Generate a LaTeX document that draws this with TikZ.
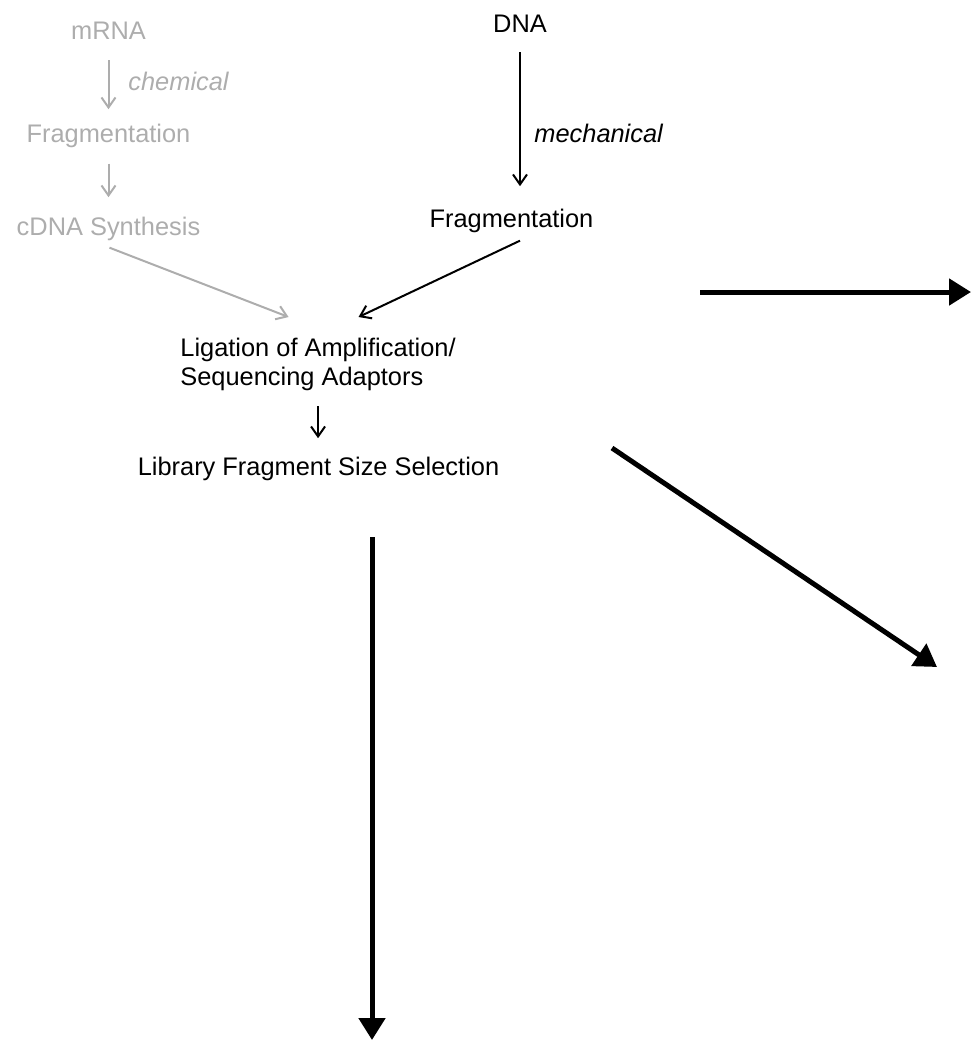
\documentclass[tikz,border=0pt]{standalone}
\usepackage{fontspec}
\setmainfont{Liberation Sans}
\usetikzlibrary{arrows.meta}
\begin{document}
\begin{tikzpicture}[x=0.5pt,y=-0.5pt,
		every node/.style={inner sep=0pt,font=\fontsize{12.7}{14.5}\selectfont},
		faded/.style={color=black!32},
		thinarrow/.style={line width=1pt,-{Straight Barb[length=5pt,width=7pt]}},
		bigarrow/.style={line width=2.5pt,-{Triangle[length=11pt,width=13pt]}}]
	\useasboundingbox (0,0) rectangle (971,1041);
	%%%%%%%%%%%%%%%%%%%
	%      mRNA       %
	%%%%%%%%%%%%%%%%%%%
		\node[faded,anchor=base] (mrna) at (108.5,39) {mRNA};
		\node[faded,anchor=base west] (chem) at (128,90) {\itshape chemical};
		\node[faded,anchor=base] (fraga) at (108.5,142) {Fragmentation};
		\node[faded,anchor=base] (cdna) at (108.5,235) {cDNA Synthesis};
		% steps
			\draw[faded,thinarrow,shorten <=10.5pt,shorten >=7pt] (mrna.south) -- (mrna.south |- fraga.north);
			\draw[faded,thinarrow,shorten <=8pt,shorten >=9.5pt] (fraga.south) -- (fraga.south |- cdna.north);
	%%%%%%%%%%%%%%%%%%%
	%       DNA       %
	%%%%%%%%%%%%%%%%%%%
		\node[anchor=base] (dna) at (520,32) {DNA};
		\node[anchor=base west] (mech) at (534,142) {\itshape mechanical};
		\node[anchor=base] (fragb) at (511.5,227) {Fragmentation};
		% step
			\draw[thinarrow,shorten <=10pt,shorten >=11pt] (dna.south) -- (dna.south |- fragb.north);
	%%%%%%%%%%%%%%%%%%%
	%     library     %
	%%%%%%%%%%%%%%%%%%%
		\node[anchor=north west,align=left] (lig) at (180,338) {Ligation of Amplification/\\Sequencing Adaptors};
		\node[anchor=base] (lib) at (318.5,475) {Library Fragment Size Selection};
		% joins
			\draw[faded,thinarrow] ([shift={(1,7)}]cdna.south) -- ([shift={(-29.5,-21)}]lig.north);
			\draw[thinarrow] ([shift={(8.5,8)}]fragb.south) -- ([shift={(40.5,-21)}]lig.north);
			\draw[thinarrow,shorten <=7.5pt,shorten >=9pt] (lig.south) -- (lig.south |- lib.north);
	%%%%%%%%%%%%%%%%%%%
	%   big arrows    %
	%%%%%%%%%%%%%%%%%%%
		\coordinate (right0) at (700,292);
		\coordinate (right1) at (971,292);
		\coordinate (diag0) at (612,448);
		\coordinate (diag1) at (937,667);
		\coordinate (down0) at (372,537);
		\coordinate (down1) at (372,1040);
		\foreach \from/\to in {right0/right1,diag0/diag1,down0/down1}
			\draw[bigarrow] (\from) -- (\to);
\end{tikzpicture}
\end{document}
